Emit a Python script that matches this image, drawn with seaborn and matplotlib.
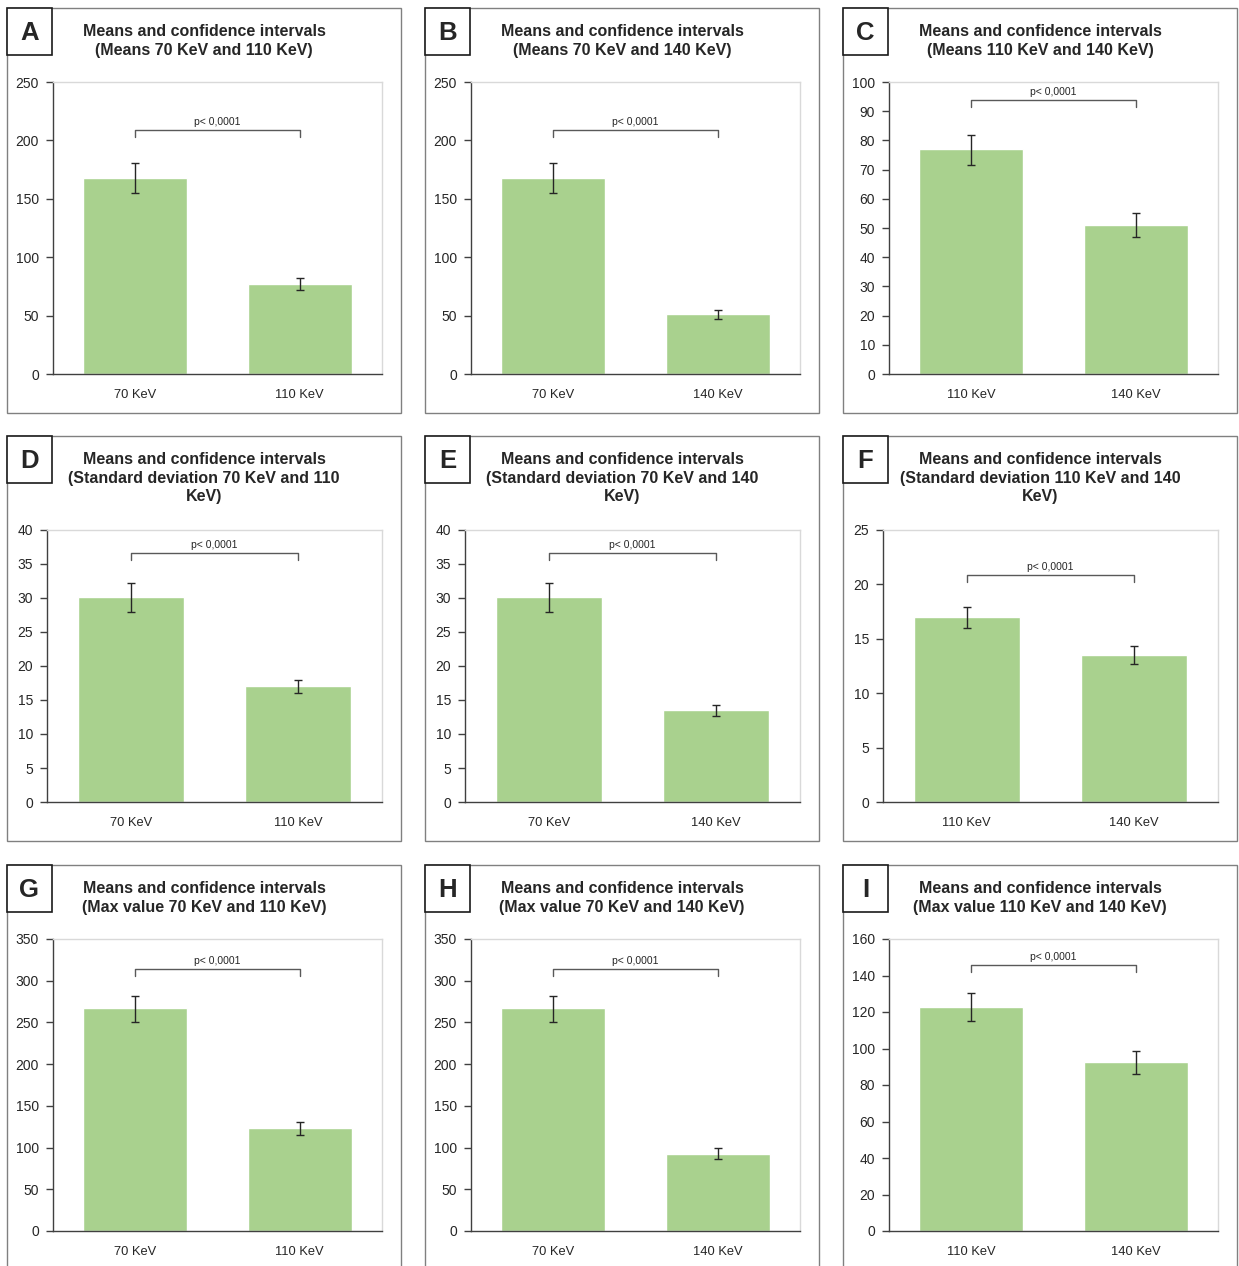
import numpy as np
import matplotlib
matplotlib.use("Agg")
import matplotlib.pyplot as plt
from matplotlib.patches import Rectangle
import seaborn as sns

# --- DATA ---
letters = ["A", "B", "C", "D", "E", "F", "G", "H", "I"]
titles = [
    "Means and confidence intervals\n(Means 70 KeV and 110 KeV)",
    "Means and confidence intervals\n(Means 70 KeV and 140 KeV)",
    "Means and confidence intervals\n(Means 110 KeV and 140 KeV)",
    "Means and confidence intervals\n(Standard deviation 70 KeV and 110\nKeV)",
    "Means and confidence intervals\n(Standard deviation 70 KeV and 140\nKeV)",
    "Means and confidence intervals\n(Standard deviation 110 KeV and 140\nKeV)",
    "Means and confidence intervals\n(Max value 70 KeV and 110 KeV)",
    "Means and confidence intervals\n(Max value 70 KeV and 140 KeV)",
    "Means and confidence intervals\n(Max value 110 KeV and 140 KeV)",
]
categories = [
    ["70 KeV", "110 KeV"], ["70 KeV", "140 KeV"], ["110 KeV", "140 KeV"],
    ["70 KeV", "110 KeV"], ["70 KeV", "140 KeV"], ["110 KeV", "140 KeV"],
    ["70 KeV", "110 KeV"], ["70 KeV", "140 KeV"], ["110 KeV", "140 KeV"],
]
means = [[168, 77], [168, 51], [77, 51],
         [30.1, 17.0], [30.1, 13.5], [17.0, 13.5],
         [267, 123], [267, 92], [123, 92.5]]
ci_low = [[155, 72], [155, 47.5], [71.5, 47],
          [28.0, 16.0], [28.0, 12.7], [16.0, 12.7],
          [251, 115], [251, 86], [115, 86]]
ci_high = [[181, 82], [181, 55], [82, 55],
           [32.2, 17.9], [32.2, 14.3], [17.9, 14.3],
           [282, 131], [282, 99], [130.5, 98.5]]
y_max = [250, 250, 100, 40, 40, 25, 350, 350, 160]
y_step = [50, 50, 10, 5, 5, 5, 50, 50, 20]
bracket_y = [209, 209, 93.8, 36.6, 36.6, 20.9, 314, 314, 146]
p_text = "p< 0,0001"

# --- STYLE ---
sns.set_style("white")
plt.rcParams["font.family"] = ["Liberation Sans", "DejaVu Sans"]
bar_color = "#A9D18E"
dark = "#404040"
light = "#D9D9D9"

W, H = 1239, 1266
fig = plt.figure(figsize=(W / 100, H / 100), dpi=100)

col_x = [7, 425, 843]
row_y = [8, 436, 865]


def rect(x, y, w, h, **kw):
    fig.patches.append(Rectangle((x / W, 1 - (y + h) / H), w / W, h / H,
                                 transform=fig.transFigure, **kw))


for i in range(9):
    r, c = divmod(i, 3)
    x0, y0 = col_x[c], row_y[r]

    # panel frame + letter box
    rect(x0, y0, 394, 405, fill=False, edgecolor="#808080", lw=1)
    rect(x0, y0, 45, 47, facecolor="white", edgecolor="#1a1a1a", lw=1.2, zorder=3)
    fig.text((x0 + 22.5) / W, 1 - (y0 + 25) / H, letters[i], fontsize=18.5,
             fontweight="bold", ha="center", va="center", zorder=4)
    fig.text((x0 + 197) / W, 1 - (y0 + 16) / H, titles[i], fontsize=11.5,
             fontweight="bold", ha="center", va="top", linespacing=1.3)

    n_lines = titles[i].count("\n") + 1
    left = x0 + (46 if y_max[i] >= 100 else 40)
    right = x0 + 375
    top = y0 + (94 if n_lines == 3 else 74)
    bottom = y0 + 366
    ax = fig.add_axes([left / W, 1 - bottom / H, (right - left) / W, (bottom - top) / H])

    sns.barplot(x=categories[i], y=means[i], color=bar_color, width=0.63,
                saturation=1, ax=ax, errorbar=None)
    m = np.array(means[i])
    lo = m - np.array(ci_low[i])
    hi = np.array(ci_high[i]) - m
    ax.errorbar([0, 1], m, yerr=[lo, hi], fmt="none", ecolor="#262626",
                elinewidth=1, capsize=3, capthick=1)

    ax.set_xlim(-0.5, 1.5)
    ax.set_ylim(0, y_max[i])
    ax.set_yticks(np.arange(0, y_max[i] + y_step[i] / 2, y_step[i]))

    # significance bracket
    drop = y_max[i] * 7 / (bottom - top)
    b = bracket_y[i]
    ax.plot([0, 0, 1, 1], [b - drop, b, b, b - drop], color="#595959", lw=1)
    ax.annotate(p_text, (0.5, b), xytext=(0, 2), textcoords="offset points",
                ha="center", va="bottom", fontsize=7.5, color="#262626")

    for s in ["left", "bottom"]:
        ax.spines[s].set_color(dark)
        ax.spines[s].set_linewidth(1)
    for s in ["top", "right"]:
        ax.spines[s].set_color(light)
        ax.spines[s].set_linewidth(1)

    ax.set_xticks([-0.5, 0.5, 1.5], minor=True)
    ax.tick_params(axis="x", which="major", length=0, pad=10.5, labelsize=9.3,
                   labelcolor="#262626")
    ax.tick_params(axis="x", which="minor", direction="inout", length=9,
                   color=dark, width=1)
    ax.tick_params(axis="y", direction="out", length=5, color=dark, width=1,
                   pad=5, labelsize=10, labelcolor="#262626", left=True)
    ax.set_xlabel("")
    ax.set_ylabel("")

fig.savefig("out.png", dpi=100)
